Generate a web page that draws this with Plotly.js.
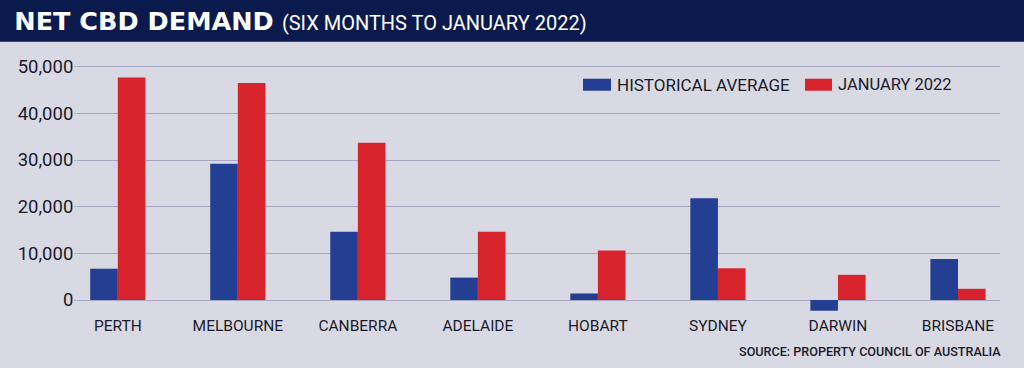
<!DOCTYPE html>
<html><head><meta charset="utf-8">
<script src="https://cdn.plot.ly/plotly-3.0.1.min.js"></script>
<style>html,body{margin:0;padding:0;background:#d9d9e3;}</style>
</head><body>
<div id="chart" style="width:1024px;height:368px;"></div>
<script>
const cities = ["PERTH","MELBOURNE","CANBERRA","ADELAIDE","HOBART","SYDNEY","DARWIN","BRISBANE"];
const historicalAverage = [6700, 29200, 14600, 4800, 1400, 21800, -2300, 8800];
const january2022 = [47700, 46500, 33700, 14600, 10600, 6800, 5400, 2400];
const seriesNames = ["HISTORICAL AVERAGE", "JANUARY 2022"];
const seriesColors = ["#243f91", "#d7232c"];
const yTicks = [0, 10000, 20000, 30000, 40000, 50000];
const yTickLabels = ["0", "10,000", "20,000", "30,000", "40,000", "50,000"];

const narrow = "Roboto, sans-serif";
const gridColor = "#a6a6c2";

const traces = [
  {type:"bar", x:cities, y:historicalAverage, name:seriesNames[0], marker:{color:seriesColors[0]}, showlegend:false, hoverinfo:"skip"},
  {type:"bar", x:cities, y:january2022, name:seriesNames[1], marker:{color:seriesColors[1]}, showlegend:false, hoverinfo:"skip"}
];

const layout = {
  width:1024, height:368,
  paper_bgcolor:"#d9d9e3", plot_bgcolor:"#d9d9e3",
  margin:{l:77, r:24, t:62, b:54},
  barmode:"group", bargap:0.54, bargroupgap:0,
  title:{
    text:"<b>NET CBD DEMAND</b> <span style='font-family:Roboto, sans-serif;font-size:20px'>(SIX MONTHS TO JANUARY 2022)</span>",
    font:{family:"DejaVu Sans, sans-serif", size:25.5, color:"#ffffff"},
    x:0.014, xanchor:"left", xref:"container",
    y:1-21/368, yanchor:"middle", yref:"container"
  },
  xaxis:{
    type:"category", range:[-0.34, 7.35], showgrid:false, zeroline:false, showline:false,
    ticks:"", tickfont:{family:narrow, size:15.5, color:"#1a1a2a"}, fixedrange:true
  },
  yaxis:{
    range:[-3000, 51000], tickvals:yTicks, ticktext:yTickLabels,
    showgrid:true, gridcolor:gridColor, gridwidth:1,
    zeroline:true, zerolinecolor:gridColor, zerolinewidth:1,
    ticks:"outside", ticklen:2, tickcolor:gridColor, ticklabelstandoff:-3,
    tickfont:{family:"Roboto, sans-serif", size:18.5, color:"#1a1a2a"}, fixedrange:true
  },
  shapes:[
    {type:"rect", xref:"paper", yref:"paper", x0:-0.2, x1:1.2, y0:(314-42)/251.7, y1:1.4, fillcolor:"#0b1a4c", line:{width:0}, layer:"above"},
    {type:"rect", xref:"paper", yref:"paper", x0:(583-77)/923, x1:(611-77)/923, y0:(314-91)/251.7, y1:(314-79)/251.7, fillcolor:seriesColors[0], line:{width:0}},
    {type:"rect", xref:"paper", yref:"paper", x0:(805-77)/923, x1:(832-77)/923, y0:(314-91)/251.7, y1:(314-79)/251.7, fillcolor:seriesColors[1], line:{width:0}}
  ],
  annotations:[
    {xref:"paper", yref:"paper", x:(615-77)/923, y:(314-85)/251.7, xanchor:"left", yanchor:"middle", showarrow:false, text:seriesNames[0], font:{family:narrow, size:17, color:"#1a1a2a"}},
    {xref:"paper", yref:"paper", x:(836-77)/923, y:(314-85)/251.7, xanchor:"left", yanchor:"middle", showarrow:false, text:seriesNames[1], font:{family:narrow, size:16.5, color:"#1a1a2a"}},
    {xref:"paper", yref:"paper", x:(1003-77)/923, y:(314-351)/251.7, xanchor:"right", yanchor:"middle", showarrow:false, text:"SOURCE: PROPERTY COUNCIL OF AUSTRALIA", font:{family:narrow, size:12.6, weight:500, color:"#1a1a2a"}}
  ]
};

Plotly.newPlot("chart", traces, layout, {displayModeBar:false, staticPlot:true});
</script>
</body></html>
